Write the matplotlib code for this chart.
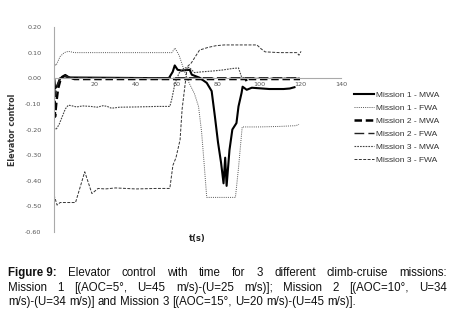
import numpy as np
import matplotlib.pyplot as plt

# time (s) and elevator control
m1_mwa_t = [0, 0.5, 1.5, 3, 5, 8, 56, 57.9, 58.9, 60.3, 62.3, 66.2, 67.2, 71, 74.5, 76.9, 78.5, 80,
            81.5, 82.7, 83.5, 84.2, 85.6, 87, 89, 90, 91.5, 92, 94, 96.5, 105, 112, 115, 117.3]
m1_mwa_y = [0, -0.04, -0.03, 0.0, 0.008, 0.003, 0.0, 0.025, 0.05, 0.033, 0.03, 0.033, 0.014, 0.002,
            -0.018, -0.05, -0.15, -0.25, -0.33, -0.41, -0.31, -0.42, -0.28, -0.20, -0.175, -0.11,
            -0.057, -0.033, -0.045, -0.037, -0.042, -0.042, -0.04, -0.035]

m1_fwa_t = [0, 1, 3, 5, 7, 10, 57.5, 59, 61, 63.5, 66, 68.5, 70.5, 72, 73.2, 74.5, 88.5, 90, 91.8,
            100, 110, 118, 119.5]
m1_fwa_y = [0.06, 0.05, 0.085, 0.10, 0.105, 0.10, 0.10, 0.118, 0.09, 0.03, -0.02, -0.06, -0.11,
            -0.21, -0.33, -0.465, -0.465, -0.35, -0.19, -0.19, -0.188, -0.185, -0.18]

m2_mwa_t = [0, 0.5, 1.2, 2, 3, 4, 5.5, 7, 10, 30, 60, 90, 93.5, 94, 94.5, 110, 120]
m2_mwa_y = [0, -0.15, -0.09, -0.04, -0.01, 0.005, 0.012, 0.004, -0.003, -0.003, -0.003, -0.003,
            -0.003, -0.012, -0.003, -0.003, -0.003]

m2_fwa_t = [0, 0.6, 1.5, 3, 5, 8, 120]
m2_fwa_y = [0, -0.07, -0.03, 0.0, 0.01, 0.002, 0.002]

m3_mwa_t = [0, 1, 2.5, 4, 5.5, 7, 9, 11, 14, 18, 21, 24, 26, 28, 32, 40, 50, 56.5, 57.5, 59, 61,
            63.5, 66, 68.5, 72, 77, 82, 87, 90, 91.5, 93, 100, 110, 120]
m3_mwa_y = [-0.195, -0.2, -0.18, -0.15, -0.12, -0.105, -0.108, -0.112, -0.108, -0.11, -0.113,
            -0.107, -0.11, -0.117, -0.113, -0.112, -0.11, -0.11, -0.08, -0.02, 0.02, 0.04, 0.042,
            0.022, 0.025, 0.028, 0.032, 0.038, 0.04, 0.005, 0.0, 0.0, 0.0, 0.0]

m3_fwa_t = [0, 1.5, 3, 10.5, 15, 18.5, 21.5, 25, 30, 40, 50, 56.5, 58, 59.5, 61.5, 62.5, 65, 67,
            71, 75, 79, 83, 99, 101, 103, 110, 118.5, 119.5, 120.5]
m3_fwa_y = [-0.455, -0.495, -0.485, -0.485, -0.365, -0.45, -0.43, -0.432, -0.428, -0.432, -0.43,
            -0.43, -0.34, -0.31, -0.24, -0.12, 0.045, 0.06, 0.11, 0.12, 0.127, 0.13, 0.13, 0.115,
            0.103, 0.10, 0.10, 0.09, 0.105]

labels = ['Mission 1 - MWA', 'Mission 1 - FWA', 'Mission 2 - MWA',
          'Mission 2 - FWA', 'Mission 3 - MWA', 'Mission 3 - FWA']
x_ticks = [20, 40, 60, 80, 100, 120, 140]
y_ticks = [0.2, 0.1, 0.0, -0.1, -0.2, -0.3, -0.4, -0.5, -0.6]

caption = [
    [('Figure 9:', 'bold'), ('Elevator', 'normal'), ('control', 'normal'), ('with', 'normal'),
     ('time', 'normal'), ('for', 'normal'), ('3', 'normal'), ('different', 'normal'),
     ('climb-cruise', 'normal'), ('missions:', 'normal')],
    [('Mission', 'normal'), ('1', 'normal'), ('[(AOC=5°,', 'normal'), ('U=45', 'normal'),
     ('m/s)-(U=25', 'normal'), ('m/s)];', 'normal'), ('Mission', 'normal'), ('2', 'normal'),
     ('[(AOC=10°,', 'normal'), ('U=34', 'normal')],
    [('m/s)-(U=34', 'normal'), ('m/s)]', 'normal'), ('and', 'normal'), ('Mission', 'normal'),
     ('3', 'normal'), ('[(AOC=15°,', 'normal'), ('U=20', 'normal'), ('m/s)-(U=45', 'normal'),
     ('m/s)].', 'normal')],
]

W, H = 456, 321
fig = plt.figure(figsize=(W / 100, H / 100), dpi=100)
ax = fig.add_axes([54 / W, 1 - 232 / H, (341 - 54) / W, (232 - 27) / H])

ax.plot(m1_mwa_t, m1_mwa_y, color='black', lw=1.5, ls='-', label=labels[0])
ax.plot(m1_fwa_t, m1_fwa_y, color='#555555', lw=0.7, ls=(0, (1, 1.2)), label=labels[1])
ax.plot(m2_mwa_t, m2_mwa_y, color='black', lw=1.8, ls=(0, (3, 1.5)), label=labels[2])
ax.plot(m2_fwa_t, m2_fwa_y, color='#222222', lw=1.0, ls=(0, (7, 3)), label=labels[3])
ax.plot(m3_mwa_t, m3_mwa_y, color='#444444', lw=0.8, ls=(0, (1.5, 1)), label=labels[4])
ax.plot(m3_fwa_t, m3_fwa_y, color='#333333', lw=0.7, ls=(0, (3, 1.5)), label=labels[5])

ax.set_xlim(0, 140)
ax.set_ylim(-0.6, 0.2)
for s in ['top', 'right']:
    ax.spines[s].set_visible(False)
ax.spines['bottom'].set_position(('data', 0))
for s in ['left', 'bottom']:
    ax.spines[s].set_color('#aaaaaa')
    ax.spines[s].set_linewidth(0.8)
ax.set_xticks(x_ticks)
ax.set_xticklabels([str(v) for v in x_ticks])
ax.set_yticks(y_ticks)
ax.set_yticklabels(['%.2f' % v if v >= 0 else '-%.2f' % -v for v in y_ticks])
ax.tick_params(axis='x', length=0, pad=3, labelsize=4.6, labelcolor='#555555')
ax.tick_params(axis='y', length=0, pad=9, labelsize=4.6, labelcolor='#555555')
ax.set_ylabel('Elevator control', fontsize=5.8, fontweight='bold', color='#333333', labelpad=6)
ax.text(0.5, -0.03, 't(s)', transform=ax.transAxes, ha='center', va='center',
        fontsize=6, fontweight='bold', color='#222222')

fig.legend(loc='upper left', bbox_to_anchor=(354 / W, 1 - 91 / H), frameon=False,
           handlelength=2.4, handletextpad=0.2, labelspacing=0.62,
           borderpad=0, borderaxespad=0, labelcolor='#333333',
           prop={'family': 'Liberation Sans', 'size': 6})

# justified caption
fig.canvas.draw()
r = fig.canvas.get_renderer()
fs = 8.3
fam = 'Liberation Sans'
x0, x1 = 8, 447
ys = [273, 288, 302]
for i, line in enumerate(caption):
    objs = []
    for word, wt in line:
        t = fig.text(0, 0, word, fontsize=fs, fontweight=wt, family=fam,
                     ha='left', va='center', color='#111111')
        objs.append(t)
    widths = [t.get_window_extent(renderer=r).width for t in objs]
    if i < len(caption) - 1:
        gap = (x1 - x0 - sum(widths)) / (len(objs) - 1)
    else:
        gap = fs * 100 / 72 * 0.28
    x = x0
    for t, w in zip(objs, widths):
        t.set_position((x / W, 1 - ys[i] / H))
        x += w + gap

fig.savefig('out.png', dpi=100)
